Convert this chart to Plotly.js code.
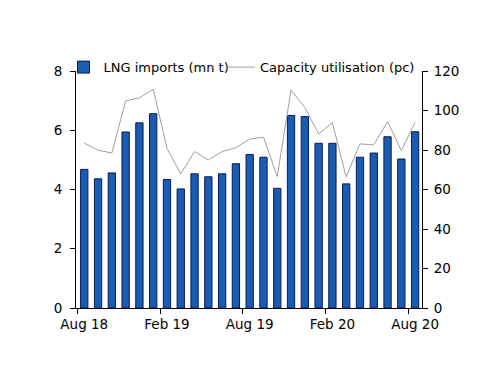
<!DOCTYPE html>
<html>
<head>
<meta charset="utf-8">
<script src="https://cdn.plot.ly/plotly-3.0.1.min.js"></script>
<style>html,body{margin:0;padding:0;background:#fff;}#chart{width:500px;height:386px;}</style>
</head>
<body>
<div id="chart"></div>
<script>
const months = ["Aug 18","Sep 18","Oct 18","Nov 18","Dec 18","Jan 19","Feb 19","Mar 19","Apr 19","May 19","Jun 19","Jul 19",
  "Aug 19","Sep 19","Oct 19","Nov 19","Dec 19","Jan 20","Feb 20","Mar 20","Apr 20","May 20","Jun 20","Jul 20","Aug 20"];
const lngImports = [4.68,4.36,4.56,5.94,6.25,6.56,4.34,4.02,4.53,4.43,4.53,4.87,
  5.18,5.09,4.04,6.50,6.46,5.56,5.56,4.19,5.09,5.23,5.78,5.03,5.95];
const capacityUtil = [83.5,79.9,78.5,104.9,106.4,110.8,80.9,67.9,79.2,75.0,79.2,81.2,
  85.5,86.5,66.6,110.4,101.5,88.1,93.9,66.3,83.1,82.6,94.4,79.7,94.0];

const font = {family: "DejaVu Sans, Verdana, sans-serif", size: 13.5, color: "#000"};
const legendFont = {family: "DejaVu Sans, Verdana, sans-serif", size: 13, color: "#000"};

const traces = [
  {type: "bar", x: months, y: lngImports, name: "LNG imports (mn t)",
   marker: {color: "#1a5cb0", line: {color: "#0a1a5c", width: 1}}, legend: "legend"},
  {type: "scatter", mode: "lines", x: months, y: capacityUtil, yaxis: "y2",
   name: "Capacity utilisation (pc)", line: {color: "#a0a0a0", width: 1}, legend: "legend2"}
];

const layout = {
  width: 500, height: 386,
  margin: {l: 76, r: 78, t: 71, b: 77.5, autoexpand: false},
  paper_bgcolor: "#fff", plot_bgcolor: "#fff",
  font: font,
  bargap: 0.47,
  xaxis: {type: "category", range: [-0.6, 24.5], tickmode: "linear", tick0: 0, dtick: 6,
    tickson: "boundaries", ticks: "outside", ticklen: 5, tickcolor: "#000", tickangle: 0,
    ticklabelstandoff: 4,
    showline: true, linecolor: "#000", linewidth: 1, showgrid: false, zeroline: false,
    tickfont: font},
  yaxis: {range: [0, 8], dtick: 2, ticks: "outside", ticklen: 5, tickcolor: "#000",
    ticklabelstandoff: 5,
    showline: true, linecolor: "#000", linewidth: 1, showgrid: false, zeroline: false,
    tickfont: font},
  yaxis2: {range: [0, 120], dtick: 20, overlaying: "y", side: "right", ticks: "outside",
    ticklen: 5, tickcolor: "#000", ticklabelstandoff: 3,
    showline: true, linecolor: "#000", linewidth: 1,
    showgrid: false, zeroline: false, tickfont: font},
  legend: {orientation: "h", x: 0.127, y: 0.826, xref: "container", yref: "container",
    xanchor: "left", yanchor: "middle", font: legendFont, bgcolor: "rgba(0,0,0,0)", borderwidth: 0},
  legend2: {orientation: "h", x: 0.44, y: 0.826, xref: "container", yref: "container",
    xanchor: "left", yanchor: "middle", font: legendFont, bgcolor: "rgba(0,0,0,0)", borderwidth: 0},
  showlegend: true
};

Plotly.newPlot("chart", traces, layout, {displayModeBar: false, staticPlot: true});
</script>
</body>
</html>
